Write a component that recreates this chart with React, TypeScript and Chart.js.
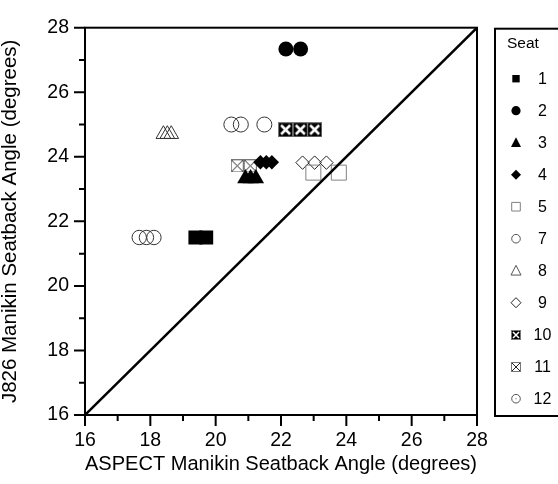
import React, { useEffect, useRef } from 'react';
import { Chart, registerables } from 'chart.js';

Chart.register(...registerables);

// ---------- data ----------
const seatLabels = ['1', '2', '3', '4', '5', '7', '8', '9', '10', '11', '12'];

const seat1X = [19.38, 19.71];
const seat1Y = [21.5, 21.5];
const seat2X = [22.15, 22.6];
const seat2Y = [27.34, 27.34];
const seat3X = [20.91, 21.07, 21.23];
const seat3Y = [23.33, 23.33, 23.33];
const seat4X = [21.37, 21.55, 21.72];
const seat4Y = [23.83, 23.83, 23.83];
const seat5X = [22.99, 23.77];
const seat5Y = [23.51, 23.51];
const seat7X = [20.48, 20.77, 21.49];
const seat7Y = [25.0, 25.0, 25.0];
const seat8X = [18.4, 18.52, 18.64];
const seat8Y = [24.7, 24.7, 24.7];
const seat9X = [22.66, 23.03, 23.39];
const seat9Y = [23.82, 23.82, 23.82];
const seat10X = [22.14, 22.59, 23.03];
const seat10Y = [24.84, 24.84, 24.84];
const seat11X = [20.66, 21.06];
const seat11Y = [23.72, 23.72];
const seat12X = [17.66, 17.88, 18.11];
const seat12Y = [21.5, 21.5, 21.5];

const seatX = [seat1X, seat2X, seat3X, seat4X, seat5X, seat7X, seat8X, seat9X, seat10X, seat11X, seat12X];
const seatY = [seat1Y, seat2Y, seat3Y, seat4Y, seat5Y, seat7Y, seat8Y, seat9Y, seat10Y, seat11Y, seat12Y];

const identityX = [16, 28];
const identityY = [16, 28];

const axisMin = 16;
const axisMax = 28;
const majorTicks = [16, 18, 20, 22, 24, 26, 28];
const minorTicks = [17, 19, 21, 23, 25, 27];

const xTitle = 'ASPECT Manikin Seatback Angle (degrees)';
const yTitle = 'J826 Manikin Seatback Angle (degrees)';
const legendTitle = 'Seat';

// ---------- styling ----------
const FONT = "'Liberation Sans', Arial, Helvetica, sans-serif";

function makeCanvas(size: number, draw: (g: CanvasRenderingContext2D, s: number) => void) {
  const c = document.createElement('canvas');
  c.width = size;
  c.height = size;
  const g = c.getContext('2d')!;
  draw(g, size);
  return c;
}

function filledXBox(size: number, xw: number) {
  return makeCanvas(size, (g, s) => {
    g.fillStyle = '#000';
    g.fillRect(0, 0, s, s);
    g.strokeStyle = '#777';
    g.lineWidth = 1;
    g.strokeRect(0.5, 0.5, s - 1, s - 1);
    g.strokeStyle = '#fff';
    g.lineWidth = xw;
    g.beginPath();
    const m = xw + 0.5;
    g.moveTo(m, m);
    g.lineTo(s - m, s - m);
    g.moveTo(s - m, m);
    g.lineTo(m, s - m);
    g.stroke();
  });
}

function openXBox(size: number) {
  return makeCanvas(size, (g, s) => {
    g.strokeStyle = '#777';
    g.lineWidth = 1;
    g.strokeRect(0.5, 0.5, s - 1, s - 1);
    g.strokeStyle = '#222';
    g.beginPath();
    g.moveTo(1, 1);
    g.lineTo(s - 1, s - 1);
    g.moveTo(s - 1, 1);
    g.lineTo(1, s - 1);
    g.stroke();
  });
}

type LegendSym = { shape: string; r: number; filled: boolean; color: string; img?: HTMLCanvasElement; dot?: boolean };

function buildStyles() {
  const seat10Img = filledXBox(15, 2.5);
  const seat11Img = openXBox(13);
  const seat10Small = filledXBox(10, 1.5);
  const seat11Small = openXBox(10);
  const styles: any[] = [
    { pointStyle: 'rect', radius: 9.9, bg: '#000', border: '#000', bw: 0 },
    { pointStyle: 'circle', radius: 7.5, bg: '#000', border: '#000', bw: 0 },
    { pointStyle: 'triangle', radius: 9.5, bg: '#000', border: '#000', bw: 0 },
    { pointStyle: 'rectRot', radius: 7.2, bg: '#000', border: '#000', bw: 0 },
    { pointStyle: 'rect', radius: 10.6, bg: 'rgba(0,0,0,0)', border: '#808080', bw: 1 },
    { pointStyle: 'circle', radius: 7.5, bg: 'rgba(0,0,0,0)', border: '#333', bw: 1 },
    { pointStyle: 'triangle', radius: 8.5, bg: 'rgba(0,0,0,0)', border: '#333', bw: 1 },
    { pointStyle: 'rectRot', radius: 6.7, bg: 'rgba(0,0,0,0)', border: '#222', bw: 1 },
    { pointStyle: seat10Img, radius: 7.5, bg: '#000', border: '#000', bw: 0 },
    { pointStyle: seat11Img, radius: 6.5, bg: 'rgba(0,0,0,0)', border: '#777', bw: 1 },
    { pointStyle: 'circle', radius: 7.2, bg: 'rgba(0,0,0,0)', border: '#333', bw: 1 },
  ];
  const legend: LegendSym[] = [
    { shape: 'rect', r: 4.2, filled: true, color: '#000' },
    { shape: 'circle', r: 4.6, filled: true, color: '#000' },
    { shape: 'triangle', r: 5.8, filled: true, color: '#000' },
    { shape: 'diamond', r: 5, filled: true, color: '#000' },
    { shape: 'rect', r: 4.8, filled: false, color: '#808080' },
    { shape: 'circle', r: 4.3, filled: false, color: '#555' },
    { shape: 'triangle', r: 5.8, filled: false, color: '#555' },
    { shape: 'diamond', r: 5, filled: false, color: '#222' },
    { shape: 'img', r: 5, filled: true, color: '#000', img: seat10Small },
    { shape: 'img', r: 5, filled: false, color: '#777', img: seat11Small },
    { shape: 'circle', r: 4.3, filled: false, color: '#555', dot: true },
  ];
  return { styles, legend };
}

function drawLegendSym(ctx: CanvasRenderingContext2D, s: LegendSym, x: number, y: number) {
  ctx.save();
  ctx.fillStyle = s.color;
  ctx.strokeStyle = s.color;
  ctx.lineWidth = 1;
  if (s.shape === 'img' && s.img) {
    ctx.drawImage(s.img, Math.round(x - s.img.width / 2), Math.round(y - s.img.height / 2));
    ctx.restore();
    return;
  }
  ctx.beginPath();
  if (s.shape === 'rect') {
    ctx.rect(x - s.r + 0.5, y - s.r + 0.5, 2 * s.r - 1, 2 * s.r - 1);
  } else if (s.shape === 'circle') {
    ctx.arc(x, y, s.r, 0, Math.PI * 2);
  } else if (s.shape === 'triangle') {
    const h = s.r * 1.5;
    const w = s.r * Math.sqrt(3);
    ctx.moveTo(x, y - h / 2 - 1);
    ctx.lineTo(x + w / 2, y + h / 2);
    ctx.lineTo(x - w / 2, y + h / 2);
    ctx.closePath();
  } else if (s.shape === 'diamond') {
    ctx.moveTo(x, y - s.r);
    ctx.lineTo(x + s.r, y);
    ctx.lineTo(x, y + s.r);
    ctx.lineTo(x - s.r, y);
    ctx.closePath();
  }
  if (s.filled) ctx.fill();
  else ctx.stroke();
  if (s.dot) {
    ctx.fillRect(x - 0.5, y - 0.5, 1, 1);
  }
  ctx.restore();
}

export default function App() {
  const ref = useRef<HTMLCanvasElement | null>(null);

  useEffect(() => {
    if (!ref.current) return;
    const { styles, legend } = buildStyles();

    const datasets: any[] = seatLabels.map((lab, i) => ({
      label: lab,
      data: seatX[i].map((x, j) => ({ x, y: seatY[i][j] })),
      pointStyle: styles[i].pointStyle,
      pointRadius: styles[i].radius,
      backgroundColor: styles[i].bg,
      borderColor: styles[i].border,
      pointBorderWidth: styles[i].bw,
      borderWidth: styles[i].bw,
      showLine: false,
      order: 1,
    }));
    datasets.push({
      label: 'identity',
      data: identityX.map((x, j) => ({ x, y: identityY[j] })),
      showLine: true,
      borderColor: '#000',
      borderWidth: 2.5,
      pointRadius: 0,
      fill: false,
      order: 0,
    });

    const framePlugin = {
      id: 'frameTicksLegend',
      afterDraw(chart: any) {
        const { ctx, chartArea: a, scales } = chart;
        ctx.save();
        ctx.strokeStyle = '#000';
        ctx.lineWidth = 2;
        ctx.strokeRect(a.left, a.top, a.right - a.left, a.bottom - a.top);
        ctx.beginPath();
        majorTicks.forEach((v) => {
          const px = scales.x.getPixelForValue(v);
          ctx.moveTo(px, a.bottom);
          ctx.lineTo(px, a.bottom + 11);
          const py = scales.y.getPixelForValue(v);
          ctx.moveTo(a.left, py);
          ctx.lineTo(a.left - 11, py);
        });
        minorTicks.forEach((v) => {
          const px = scales.x.getPixelForValue(v);
          ctx.moveTo(px, a.bottom);
          ctx.lineTo(px, a.bottom + 6);
          const py = scales.y.getPixelForValue(v);
          ctx.moveTo(a.left, py);
          ctx.lineTo(a.left - 6, py);
        });
        ctx.stroke();

        // legend box
        const bx = a.right + 18;
        const by = a.top + 1;
        const bh = a.bottom - by + 1;
        ctx.lineWidth = 2;
        ctx.strokeRect(bx, by, 100, bh);
        ctx.fillStyle = '#000';
        ctx.font = `15.5px ${FONT}`;
        ctx.textAlign = 'left';
        ctx.textBaseline = 'alphabetic';
        ctx.fillText(legendTitle, bx + 12, by + 19);
        const rowTop = by + 50;
        const rowStep = 32;
        ctx.font = `16px ${FONT}`;
        ctx.textAlign = 'center';
        seatLabels.forEach((lab, i) => {
          const cy = rowTop + i * rowStep;
          drawLegendSym(ctx, legend[i], bx + 21, cy);
          ctx.fillStyle = '#000';
          ctx.fillText(lab, bx + 47.5, cy + 5.7);
        });
        ctx.restore();
      },
    };

    const tickFont = { family: FONT, size: 19.5 };
    const titleFont = { family: FONT, size: 20.5, lineHeight: 1 };

    const chart = new Chart(ref.current, {
      type: 'scatter',
      data: { datasets },
      options: {
        responsive: false,
        animation: false,
        events: [],
        devicePixelRatio: 1,
        layout: { padding: { top: 21, right: 81, left: 0, bottom: 0 } },
        plugins: {
          legend: { display: false },
          tooltip: { enabled: false },
        },
        scales: {
          x: {
            type: 'linear',
            min: axisMin,
            max: axisMax,
            afterBuildTicks: (s: any) => {
              s.ticks = majorTicks.map((v) => ({ value: v }));
            },
            afterFit: (s: any) => {
              s.height = 69;
            },
            ticks: { font: tickFont, color: '#000', padding: 14, maxRotation: 0, autoSkip: false },
            grid: { display: false, drawTicks: false },
            border: { display: false },
            title: { display: true, text: xTitle, font: titleFont, color: '#000', padding: { top: 0, bottom: 9.5 } },
          },
          y: {
            type: 'linear',
            min: axisMin,
            max: axisMax,
            afterBuildTicks: (s: any) => {
              s.ticks = majorTicks.map((v) => ({ value: v }));
            },
            afterFit: (s: any) => {
              s.width = 85;
            },
            ticks: { font: tickFont, color: '#000', padding: 16, autoSkip: false },
            grid: { display: false, drawTicks: false },
            border: { display: false },
            title: { display: true, text: yTitle, font: titleFont, color: '#000', padding: { top: 0, bottom: 0 } },
          },
        },
      } as any,
      plugins: [framePlugin],
    });
    return () => chart.destroy();
  }, []);

  return (
    <div style={{ position: 'fixed', left: 0, top: 0, width: 558, height: 484, background: '#fff' }}>
      <canvas ref={ref} width={558} height={484} style={{ display: 'block' }} />
    </div>
  );
}
